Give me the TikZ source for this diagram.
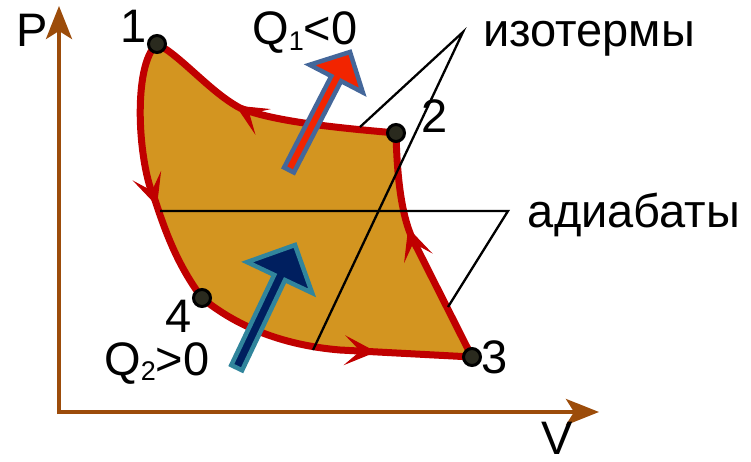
\documentclass[tikz,border=0pt]{standalone}
\usepackage{fontspec}
\setmainfont{Liberation Sans}
\usetikzlibrary{arrows.meta,decorations.markings}
\definecolor{axisbrown}{HTML}{9C4C0A}
\definecolor{cycred}{HTML}{C00000}
\definecolor{areafill}{HTML}{D39520}
\definecolor{qonefill}{HTML}{F22400}
\definecolor{qoneline}{HTML}{44679A}
\definecolor{qtwofill}{HTML}{001F5F}
\definecolor{qtwoline}{HTML}{31859C}
\definecolor{dotfill}{HTML}{2A2A1E}
\tikzset{
  axisline/.style={draw=axisbrown, line width=4pt, -{Stealth[length=33pt,width=26pt,inset=8pt]}},
  cycline/.style={draw=cycred, line width=7pt, line join=round, line cap=round},
  midarrow/.style={postaction={decorate}, decoration={markings, mark=at position #1 with {\arrow[line width=1pt]{Stealth[length=32pt,width=30pt,inset=16pt]}}}},
  dotmark/.style={circle, draw=black, line width=3pt, fill=dotfill, minimum size=17pt, inner sep=0pt},
  lbl/.style={font=\fontsize{47}{47}\selectfont, inner sep=0pt, anchor=base},
  leader/.style={draw=black, line width=2.3pt},
  qonearrow/.style={fill=qonefill, draw=qoneline, line width=4.5pt, line join=miter},
  qtwoarrow/.style={fill=qtwofill, draw=qtwoline, line width=4.5pt, line join=miter},
}
\newcommand{\subsc}[1]{\raisebox{-0.12em}{\fontsize{27}{27}\selectfont #1}}
\begin{document}
\begin{tikzpicture}[x=1pt,y=-1pt]
\useasboundingbox (0,0) rectangle (751,462);
% named coordinates
\coordinate (p1) at (157,44);
\coordinate (p2) at (396,133);
\coordinate (p3) at (472,357);
\coordinate (p4) at (202,298);
\coordinate (t1) at (240,108);
\coordinate (r1) at (413,240);
\coordinate (b1) at (340,350);
\coordinate (l1) at (155,200);
\coordinate (origin) at (59,412);
\coordinate (ptop) at (59,6);
\coordinate (vend) at (599,412);
% area
\fill[areafill] (p1) .. controls (132,65) and (138,165) .. (l1) .. controls (168,240) and (180,268) .. (p4)
  .. controls (235,325) and (280,345) .. (b1) -- (p3) -- (r1) .. controls (401,215) and (397,175) .. (p2)
  .. controls (340,128) and (275,122) .. (t1) .. controls (210,92) and (180,55) .. (p1) -- cycle;
% axes
\draw[axisline] ([yshift=-2pt]origin) -- (ptop);
\draw[axisline] ([xshift=-2pt]origin) -- (vend);
% cycle
\draw[cycline, midarrow=0.62] (p2) .. controls (340,128) and (275,122) .. (t1) .. controls (210,92) and (180,55) .. (p1);
\draw[cycline, midarrow=0.62] (p1) .. controls (132,65) and (138,165) .. (l1) .. controls (168,240) and (180,268) .. (p4);
\draw[cycline, midarrow=0.66] (p4) .. controls (235,325) and (280,345) .. (b1) -- (p3);
\draw[cycline, midarrow=0.6] (p3) -- (r1) .. controls (401,215) and (397,175) .. (p2);
% heat arrows
\draw[qonearrow] (284.1,167.5) -- (331.3,76.1) -- (309.6,64.8) -- (350,52) -- (362.8,92.4) -- (341.1,81.1) -- (293.9,172.5) -- cycle;
\draw[qtwoarrow] (231.3,365.1) -- (274.2,274.9) -- (247.1,262.1) -- (295,245) -- (312.1,292.9) -- (285,280.1) -- (242.1,370.3) -- cycle;
% leaders
\coordinate (iv) at (463,32);
\coordinate (ia) at (360,127);
\coordinate (ib) at (313,350);
\coordinate (av) at (508,211);
\coordinate (aa) at (160,211);
\coordinate (ab) at (448,307);
\draw[leader] (ia) -- (iv) -- (ib);
\draw[leader] (aa) -- (av) -- (ab);
% points
\node[dotmark] (d1) at (p1) {};
\node[dotmark] (d2) at (p2) {};
\node[dotmark] (d3) at (p3) {};
\node[dotmark] (d4) at (p4) {};
% labels
\node[lbl] (lP) at (32,47) {P};
\node[lbl] (lV) at (557,454) {V};
\node[lbl] (l1t) at (134,43) {1};
\node[lbl] (l2t) at (435,133) {2};
\node[lbl] (l3t) at (495,373) {3};
\node[lbl] (l4t) at (179,332) {4};
\node[lbl] (lq1) at (305,45) {Q\subsc{1}<0};
\node[lbl] (lq2) at (157,375) {Q\subsc{2}>0};
\node[lbl] (liso) at (589,47) {изотермы};
\node[lbl] (ladi) at (634,227) {адиабаты};
\end{tikzpicture}
\end{document}
